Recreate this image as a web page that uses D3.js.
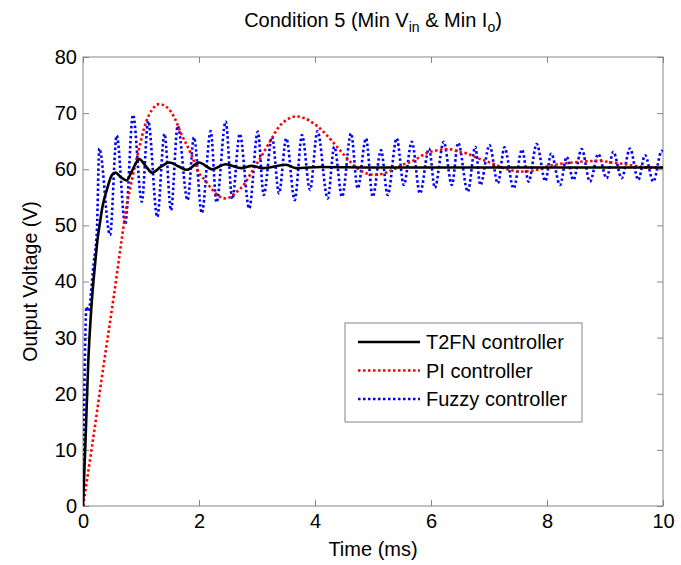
<!DOCTYPE html>
<html>
<head>
<meta charset="utf-8">
<script src="https://cdn.jsdelivr.net/npm/d3@7"></script>
<style>
  body { margin: 0; background: #fff; }
  text { font-family: "Liberation Sans", Arial, sans-serif; }
</style>
</head>
<body>
<div id="chart"></div>
<script>
// series: [time (ms), voltage (V)]
const t2fn = [
  [0, 0], [0.04, 10.6], [0.09, 25.5], [0.145, 35.5], [0.21, 43.3], [0.24, 46.5],
  [0.30, 51], [0.33, 53], [0.41, 56.3], [0.50, 59], [0.56, 59.4], [0.65, 58.6],
  [0.75, 58], [0.84, 59.6], [0.97, 61.8], [1.08, 60.6], [1.19, 59.4], [1.35, 60.5],
  [1.49, 61.2], [1.65, 60.5], [1.79, 59.9], [2.0, 61.2], [2.23, 60.0], [2.46, 60.9],
  [2.73, 60.2], [2.91, 60.6], [3.1, 60.2], [3.5, 60.8], [3.67, 60.2], [4.1, 60.4],
  [5, 60.3], [6, 60.3], [8, 60.3], [10, 60.3]
];

const pi = [
  [0, 0], [0.155, 10.6], [0.36, 25.4], [0.53, 37.3], [0.67, 47.7], [0.74, 52.7],
  [0.85, 58.4], [0.96, 63.4], [1.08, 68.2], [1.19, 70.6], [1.31, 71.6], [1.44, 71.1],
  [1.58, 69.1], [1.69, 66.4], [1.86, 62.8], [2.0, 59.3], [2.1, 58.1], [2.21, 56.6],
  [2.36, 55.1], [2.47, 54.8], [2.62, 55.7], [2.79, 57.5], [2.93, 59.9], [3.07, 62.2],
  [3.22, 64.9], [3.36, 67.3], [3.51, 68.8], [3.68, 69.4], [3.82, 69.1], [3.97, 68.2],
  [4.05, 67.6], [4.19, 66.2], [4.33, 64.6], [4.48, 62.8], [4.62, 61.2], [4.76, 59.9],
  [4.88, 59.3], [5.02, 59.0], [5.17, 59.2], [5.34, 59.9], [5.51, 60.8], [5.71, 61.6],
  [5.91, 62.8], [6.07, 63.3], [6.3, 63.6], [6.48, 63.1], [6.62, 62.8], [6.8, 62.0],
  [6.94, 61.5], [7.11, 60.8], [7.31, 60.0], [7.54, 59.6], [7.78, 59.8], [8.0, 60.5],
  [8.43, 61.2], [8.66, 61.4], [8.89, 61.5], [9.12, 61.2], [9.35, 60.9], [9.58, 60.5],
  [9.81, 60.3], [10, 60.3]
];

const fuzzy = [
  [0, 0], [0.06, 35.5], [0.09, 34.7], [0.184, 43.3], [0.24, 49.2], [0.281, 63.7],
  [0.466, 48.3], [0.581, 66.0], [0.728, 50.2], [0.862, 69.7], [1.014, 54.2], [1.124, 68.6],
  [1.281, 51.5], [1.405, 66.3], [1.517, 52.7], [1.633, 67.7], [1.803, 54.5], [1.914, 65.7],
  [2.048, 52.2], [2.202, 66.8], [2.302, 54.1], [2.460, 68.5], [2.574, 54.7], [2.703, 66.3],
  [2.866, 53.0], [3.014, 66.7], [3.116, 55.4], [3.259, 65.8], [3.379, 55.7], [3.505, 65.5],
  [3.650, 54.5], [3.776, 66.1], [3.914, 56.3], [4.043, 66.8], [4.219, 54.8], [4.333, 64.0],
  [4.466, 55.1], [4.621, 66.4], [4.736, 56.6], [4.879, 65.5], [4.995, 55.1], [5.138, 63.4],
  [5.253, 55.4], [5.409, 65.5], [5.531, 57.2], [5.669, 64.9], [5.810, 55.7], [5.966, 63.7],
  [6.066, 56.7], [6.219, 64.9], [6.359, 57.2], [6.469, 64.7], [6.634, 56.0], [6.764, 64.0],
  [6.850, 57.2], [7.009, 64.3], [7.152, 57.5], [7.267, 63.9], [7.424, 56.6], [7.569, 63.5],
  [7.683, 57.8], [7.822, 64.5], [7.971, 57.9], [8.072, 62.8], [8.224, 57.2], [8.340, 62.2],
  [8.453, 58.1], [8.598, 63.6], [8.741, 57.8], [8.884, 62.7], [9.029, 58.4], [9.143, 63.1],
  [9.288, 58.4], [9.431, 63.7], [9.574, 58.1], [9.690, 62.5], [9.833, 57.8], [9.978, 63.3],
  [10, 63.0]
];

const xTicks = [0, 2, 4, 6, 8, 10];
const yTicks = [0, 10, 20, 30, 40, 50, 60, 70, 80];
const legendNames = ['T2FN controller', 'PI controller', 'Fuzzy controller'];

// size and margins
const margin = { top: 57, right: 18, bottom: 59, left: 83 };
const width = 681 - margin.left - margin.right;
const height = 565 - margin.top - margin.bottom;
const axisColor = '#858585';
const fontSize = 20;

const svg = d3.select('#chart')
  .append('svg')
  .attr('width', 681)
  .attr('height', 565);

const g = svg.append('g')
  .attr('transform', `translate(${margin.left},${margin.top})`);

const x = d3.scaleLinear().domain([0, 10]).range([0, width]);
const y = d3.scaleLinear().domain([0, 80]).range([height, 0]);

// clip so the lines stay in the box
g.append('clipPath').attr('id', 'clip')
  .append('rect').attr('width', width).attr('height', height);

// axes: ticks inside, on all four sides
function styleAxis(sel) {
  sel.select('.domain').remove();
  sel.selectAll('.tick line').attr('stroke', axisColor);
  sel.selectAll('.tick text')
    .attr('fill', '#000')
    .attr('font-size', fontSize);
}

g.append('g')
  .attr('transform', `translate(0,${height})`)
  .call(d3.axisBottom(x).tickValues(xTicks).tickSizeInner(-6).tickSizeOuter(0).tickPadding(8))
  .call(styleAxis);

g.append('g')
  .call(d3.axisLeft(y).tickValues(yTicks).tickSizeInner(-6).tickSizeOuter(0).tickPadding(6))
  .call(styleAxis);

g.append('g')
  .call(d3.axisTop(x).tickValues(xTicks).tickSizeInner(-6).tickSizeOuter(0).tickFormat(''))
  .call(styleAxis);

g.append('g')
  .attr('transform', `translate(${width},0)`)
  .call(d3.axisRight(y).tickValues(yTicks).tickSizeInner(-6).tickSizeOuter(0).tickFormat(''))
  .call(styleAxis);

g.append('rect')
  .attr('width', width)
  .attr('height', height)
  .attr('fill', 'none')
  .attr('stroke', axisColor)
  .attr('stroke-width', 1);

// lines
const line = d3.line()
  .x(d => x(d[0]))
  .y(d => y(d[1]))
  .curve(d3.curveMonotoneX);

const series = [
  { data: fuzzy, color: '#0000ff', dash: '2.5,2.5' },
  { data: pi, color: '#ff0000', dash: '2.5,2.5' },
  { data: t2fn, color: '#000000', dash: null },
];

const plot = g.append('g').attr('clip-path', 'url(#clip)');
series.forEach(s => {
  plot.append('path')
    .datum(s.data)
    .attr('d', line)
    .attr('fill', 'none')
    .attr('stroke', s.color)
    .attr('stroke-width', 2.6)
    .attr('stroke-dasharray', s.dash);
});

// legend
const legendStyles = [
  { color: '#000000', dash: null },
  { color: '#ff0000', dash: '2.5,2.5' },
  { color: '#0000ff', dash: '2.5,2.5' },
];
const legend = svg.append('g').attr('transform', 'translate(345,323)');
legend.append('rect')
  .attr('width', 237)
  .attr('height', 99)
  .attr('fill', '#fff')
  .attr('stroke', axisColor);

legendNames.forEach((name, i) => {
  const ly = 19 + i * 28.5;
  legend.append('line')
    .attr('x1', 13).attr('x2', 75)
    .attr('y1', ly).attr('y2', ly)
    .attr('stroke', legendStyles[i].color)
    .attr('stroke-width', 2.6)
    .attr('stroke-dasharray', legendStyles[i].dash);
  legend.append('text')
    .attr('x', 81)
    .attr('y', ly + 7)
    .attr('font-size', fontSize)
    .text(name);
});

// axis labels
svg.append('text')
  .attr('x', margin.left + width / 2)
  .attr('y', 556)
  .attr('text-anchor', 'middle')
  .attr('font-size', fontSize)
  .text('Time (ms)');

svg.append('text')
  .attr('transform', `translate(37,${margin.top + height / 2}) rotate(-90)`)
  .attr('text-anchor', 'middle')
  .attr('font-size', 19.5)
  .text('Output Voltage (V)');

// title with subscripts
const title = svg.append('text')
  .attr('x', margin.left + width / 2)
  .attr('y', 27)
  .attr('text-anchor', 'middle')
  .attr('font-size', fontSize);
title.append('tspan').text('Condition 5 (Min V');
title.append('tspan').attr('dy', 5).attr('font-size', 14).text('in');
title.append('tspan').attr('dy', -5).text(' & Min I');
title.append('tspan').attr('dy', 5).attr('font-size', 14).text('o');
title.append('tspan').attr('dy', -5).text(')');
</script>
</body>
</html>
